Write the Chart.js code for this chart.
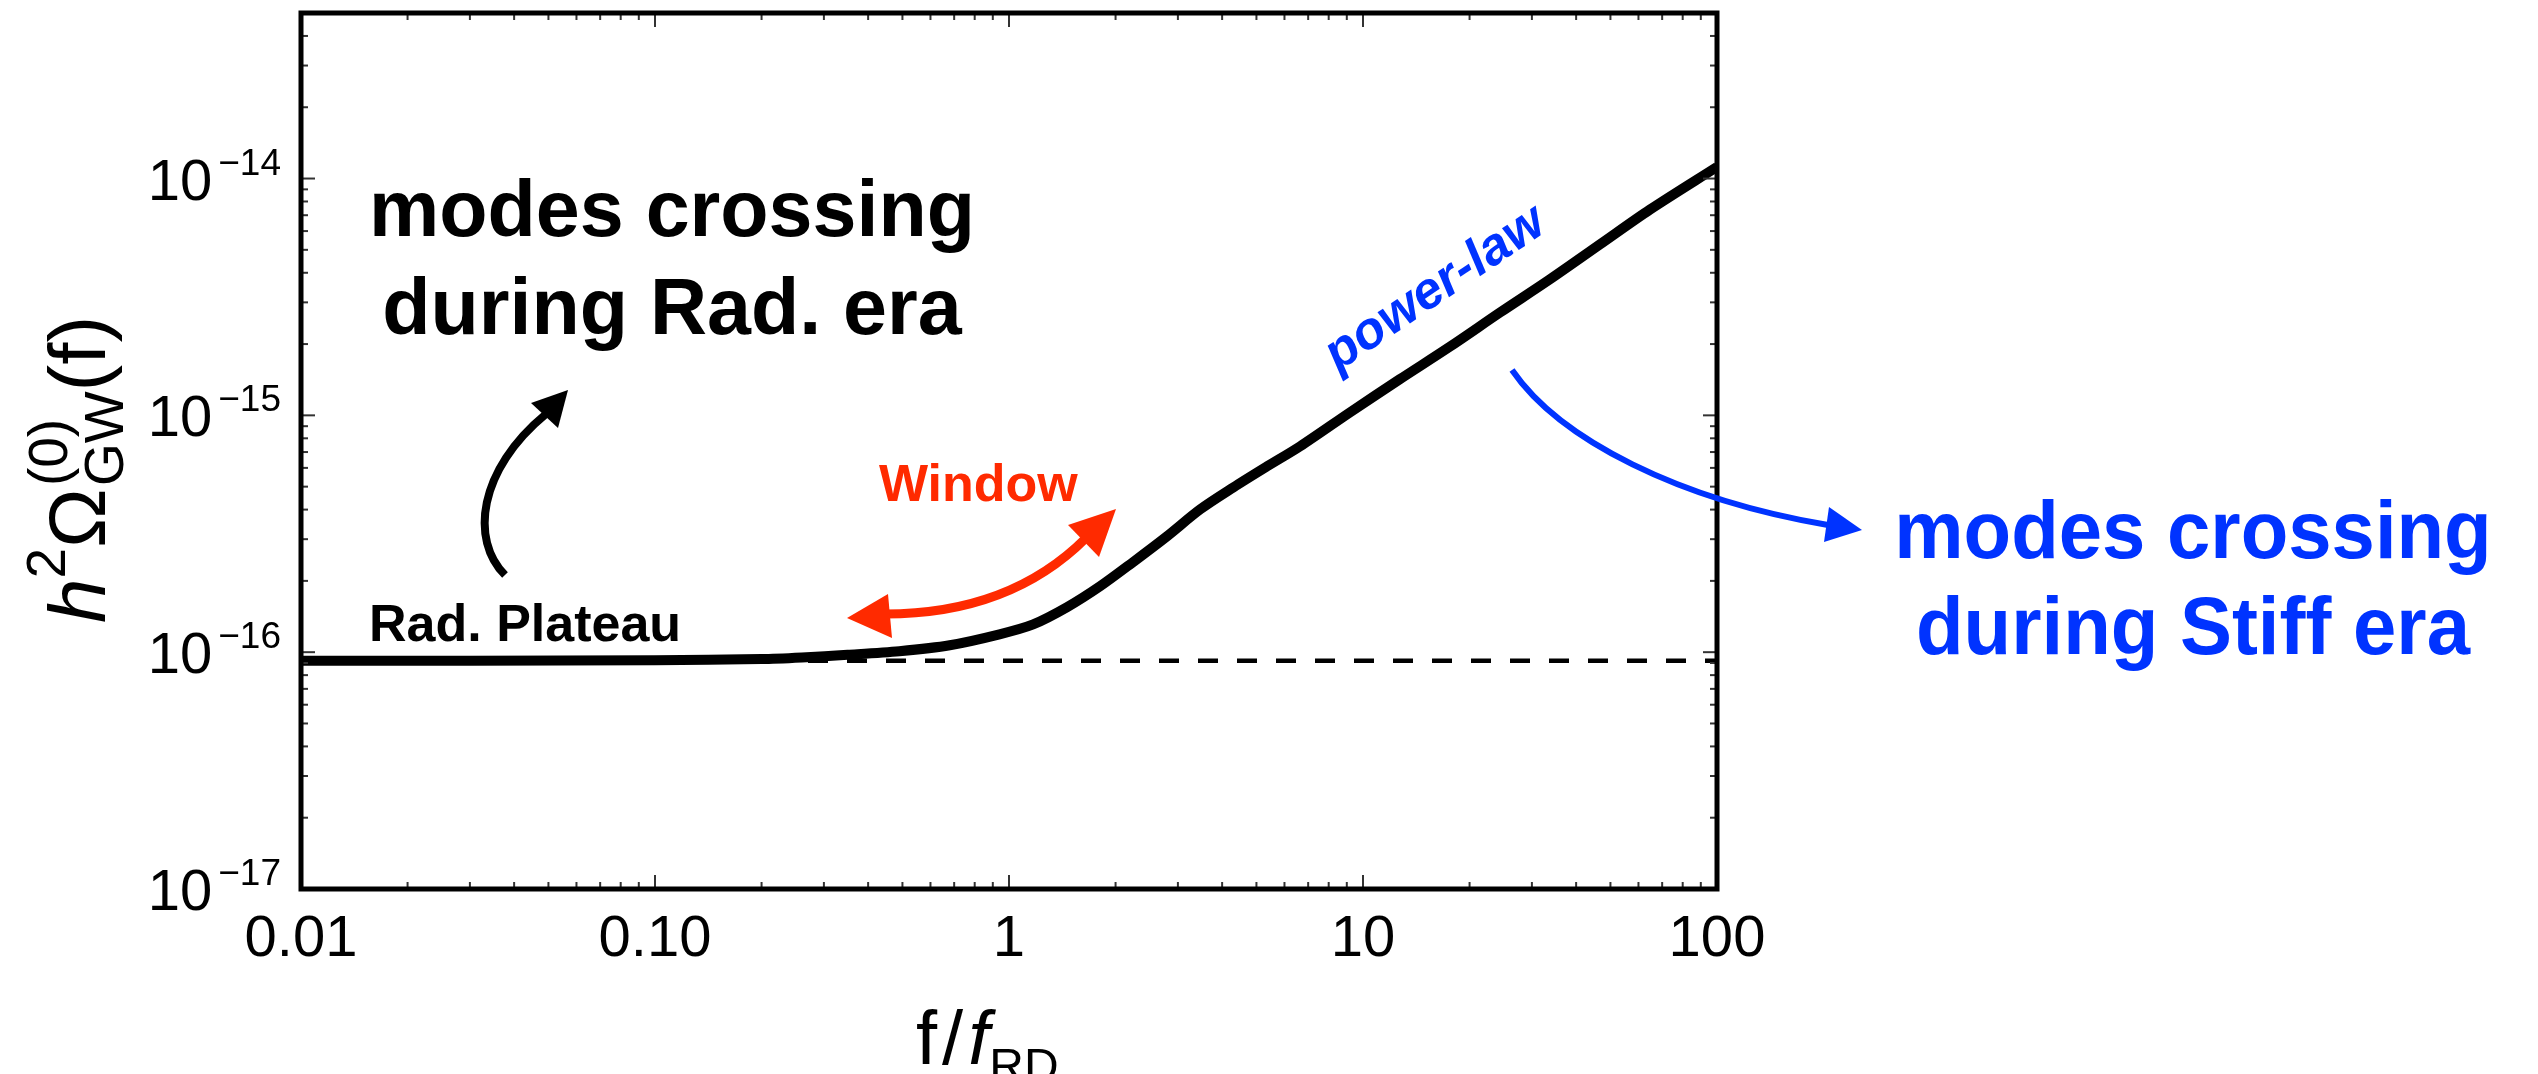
<!DOCTYPE html>
<html>
<head>
<meta charset="utf-8">
<title>GW spectrum</title>
<script src="https://cdn.jsdelivr.net/npm/chart.js@4.4.1/dist/chart.umd.min.js"></script>
<style>
  html, body { margin: 0; padding: 0; background: #fff; }
  #wrap { width: 2538px; height: 1074px; }
</style>
</head>
<body>
<div id="wrap"><canvas id="gw-chart" width="2538" height="1074"></canvas></div>
<script>
// Spectrum today: f/f_RD against h^2 Omega_GW^(0)(f)
const freqs = [0.01, 0.03, 0.1, 0.2, 0.26, 0.35, 0.49, 0.68, 0.94, 1.17, 1.46, 1.81, 2.24,
  2.79, 3.47, 4.3, 5.36, 6.64, 9.19, 12.7, 17.6, 24.4, 33.7, 46.7, 64.7, 100];
const omega = [9.2e-17, 9.2e-17, 9.25e-17, 9.35e-17, 9.5e-17, 9.75e-17, 1.01e-16, 1.07e-16,
  1.19e-16, 1.31e-16, 1.55e-16, 1.90e-16, 2.40e-16, 3.08e-16, 4.01e-16, 4.96e-16, 6.09e-16,
  7.40e-16, 1.03e-15, 1.42e-15, 1.95e-15, 2.72e-15, 3.75e-15, 5.27e-15, 7.40e-15, 1.12e-14];

// radiation plateau level (dashed reference)
const plateau = 9.2e-17;

const xRange = [0.01, 100];
const yRange = [1e-17, 5e-14];
const xTicks = [0.01, 0.1, 1, 10, 100];
const xTickLabels = ['0.01', '0.10', '1', '10', '100'];
const yTicks = [1e-17, 1e-16, 1e-15, 1e-14];
const yTickExponents = ['\u221217', '\u221216', '\u221215', '\u221214'];

const FONT = '"Liberation Sans", Arial, Helvetica, sans-serif';
const BLUE = '#0033ff';
const RED = '#ff2a00';

// 1..9 x 10^n positions inside a range, major = decade
function logTicks(min, max) {
  const out = [];
  for (let e = Math.floor(Math.log10(min)); e <= Math.ceil(Math.log10(max)); e++) {
    for (let m = 1; m < 10; m++) {
      const v = m * Math.pow(10, e);
      if (v >= min * 0.999 && v <= max * 1.001) out.push({ v: v, major: m === 1 });
    }
  }
  return out;
}

function seg(ctx, x1, y1, x2, y2) {
  ctx.beginPath();
  ctx.moveTo(x1, y1);
  ctx.lineTo(x2, y2);
  ctx.stroke();
}

function arrowHead(ctx, tip, c1, c2) {
  ctx.beginPath();
  ctx.moveTo(tip[0], tip[1]);
  ctx.lineTo(c1[0], c1[1]);
  ctx.lineTo(c2[0], c2[1]);
  ctx.closePath();
  ctx.fill();
}

// frame with inward ticks on all four sides, tick labels and axis titles
const framePlugin = {
  id: 'frame',
  afterDraw(chart) {
    const ctx = chart.ctx;
    const a = chart.chartArea;
    const x = chart.scales.x;
    const y = chart.scales.y;
    ctx.save();

    ctx.strokeStyle = '#333';
    ctx.lineWidth = 2;
    logTicks(xRange[0], xRange[1]).forEach(t => {
      const px = x.getPixelForValue(t.v);
      const len = t.major ? 14 : 7;
      seg(ctx, px, a.bottom, px, a.bottom - len);
      seg(ctx, px, a.top, px, a.top + len);
    });
    logTicks(yRange[0], yRange[1]).forEach(t => {
      const py = y.getPixelForValue(t.v);
      const len = t.major ? 14 : 7;
      seg(ctx, a.left, py, a.left + len, py);
      seg(ctx, a.right, py, a.right - len, py);
    });

    ctx.strokeStyle = '#000';
    ctx.lineWidth = 5;
    ctx.strokeRect(a.left, a.top, a.right - a.left, a.bottom - a.top);

    ctx.fillStyle = '#000';
    ctx.textBaseline = 'alphabetic';

    // x tick labels
    ctx.textAlign = 'center';
    ctx.font = '58px ' + FONT;
    xTicks.forEach((v, i) => {
      ctx.fillText(xTickLabels[i], x.getPixelForValue(v), a.bottom + 67);
    });

    // y tick labels as 10^n
    ctx.textAlign = 'right';
    yTicks.forEach((v, i) => {
      const py = y.getPixelForValue(v);
      ctx.font = '37px ' + FONT;
      const supW = ctx.measureText(yTickExponents[i]).width;
      ctx.fillText(yTickExponents[i], a.left - 20, py - 4);
      ctx.font = '58px ' + FONT;
      ctx.fillText('10', a.left - 26 - supW, py + 21);
    });

    // x axis title: f/f_RD
    ctx.textAlign = 'left';
    let cx = 916;
    const base = 1064;
    ctx.font = '76px ' + FONT;
    ctx.fillText('f', cx, base);
    cx += ctx.measureText('f').width + 5;
    ctx.fillText('/', cx, base);
    cx += ctx.measureText('/').width + 5;
    ctx.font = 'italic 76px ' + FONT;
    ctx.fillText('f', cx, base);
    cx += ctx.measureText('f').width;
    ctx.font = '48px ' + FONT;
    ctx.fillText('RD', cx, base + 18);

    // y axis title: h^2 Omega_GW^(0)(f), rotated
    ctx.save();
    ctx.translate(105, 623);
    ctx.rotate(-Math.PI / 2);
    let lx = 0;
    ctx.font = 'italic 80px ' + FONT;
    ctx.fillText('h', lx, 0);
    lx += ctx.measureText('h').width;
    ctx.font = '55px ' + FONT;
    ctx.fillText('2', lx, -40);
    lx += ctx.measureText('2').width;
    ctx.font = '80px ' + FONT;
    ctx.fillText('\u03A9', lx, 0);
    lx += ctx.measureText('\u03A9').width + 2;
    ctx.font = '55px ' + FONT;
    ctx.fillText('GW', lx, 18);
    ctx.fillText('(0)', lx, -38);
    lx += Math.max(ctx.measureText('GW').width, ctx.measureText('(0)').width);
    ctx.font = '80px ' + FONT;
    ctx.fillText('(f)', lx, 0);
    ctx.restore();

    ctx.restore();
  }
};

// annotations: era labels and arrows
const notesPlugin = {
  id: 'notes',
  afterDraw(chart) {
    const ctx = chart.ctx;
    ctx.save();
    ctx.textBaseline = 'alphabetic';
    ctx.lineCap = 'butt';

    // radiation era
    ctx.fillStyle = '#000';
    ctx.textAlign = 'center';
    ctx.font = 'bold 79px ' + FONT;
    ctx.fillText('modes crossing', 672, 236);
    ctx.fillText('during Rad. era', 672, 334);
    ctx.textAlign = 'left';
    ctx.font = 'bold 52px ' + FONT;
    ctx.fillText('Rad. Plateau', 369, 641);

    ctx.strokeStyle = '#000';
    ctx.lineWidth = 8;
    ctx.beginPath();
    ctx.moveTo(505, 575);
    ctx.bezierCurveTo(470, 540, 478, 470, 546, 414);
    ctx.stroke();
    arrowHead(ctx, [568, 390], [531, 403], [558, 428]);

    // window
    ctx.fillStyle = RED;
    ctx.strokeStyle = RED;
    ctx.font = 'bold 52px ' + FONT;
    ctx.fillText('Window', 879, 501);
    ctx.lineWidth = 9;
    ctx.beginPath();
    ctx.moveTo(885, 614);
    ctx.quadraticCurveTo(1010, 614, 1086, 538);
    ctx.stroke();
    arrowHead(ctx, [847, 618], [888, 594], [892, 638]);
    arrowHead(ctx, [1116, 509], [1068, 525], [1099, 557]);

    // stiff era
    ctx.fillStyle = BLUE;
    ctx.strokeStyle = BLUE;
    ctx.save();
    ctx.translate(1338, 372);
    ctx.rotate(-34 * Math.PI / 180);
    ctx.font = 'italic bold 52px ' + FONT;
    ctx.fillText('power-law', 0, 0);
    ctx.restore();

    ctx.lineWidth = 6;
    ctx.beginPath();
    ctx.moveTo(1512, 370);
    ctx.bezierCurveTo(1560, 440, 1680, 500, 1828, 525);
    ctx.stroke();
    arrowHead(ctx, [1862, 530], [1829, 507], [1824, 542]);

    ctx.save();
    ctx.translate(2193, 0);
    ctx.scale(0.95, 1);
    ctx.textAlign = 'center';
    ctx.font = 'bold 82px ' + FONT;
    ctx.fillText('modes crossing', 0, 558);
    ctx.fillText('during Stiff era', 0, 654);
    ctx.restore();

    ctx.restore();
  }
};

const spectrum = freqs.map((f, i) => ({ x: f, y: omega[i] }));
const plateauLine = [{ x: xRange[0], y: plateau }, { x: xRange[1], y: plateau }];

new Chart(document.getElementById('gw-chart').getContext('2d'), {
  type: 'line',
  data: {
    datasets: [
      {
        data: spectrum,
        borderColor: '#000',
        borderWidth: 10,
        pointRadius: 0,
        fill: false,
        tension: 0.3,
        borderJoinStyle: 'round',
        order: 0
      },
      {
        data: plateauLine,
        borderColor: '#000',
        borderWidth: 4.5,
        borderDash: [20, 19],
        pointRadius: 0,
        fill: false,
        order: 1
      }
    ]
  },
  options: {
    responsive: false,
    animation: false,
    layout: { padding: { left: 301, right: 821, top: 13, bottom: 185 } },
    scales: {
      x: { type: 'logarithmic', min: xRange[0], max: xRange[1], display: false },
      y: { type: 'logarithmic', min: yRange[0], max: yRange[1], display: false }
    },
    plugins: {
      legend: { display: false },
      tooltip: { enabled: false }
    }
  },
  plugins: [framePlugin, notesPlugin]
});
</script>
</body>
</html>
